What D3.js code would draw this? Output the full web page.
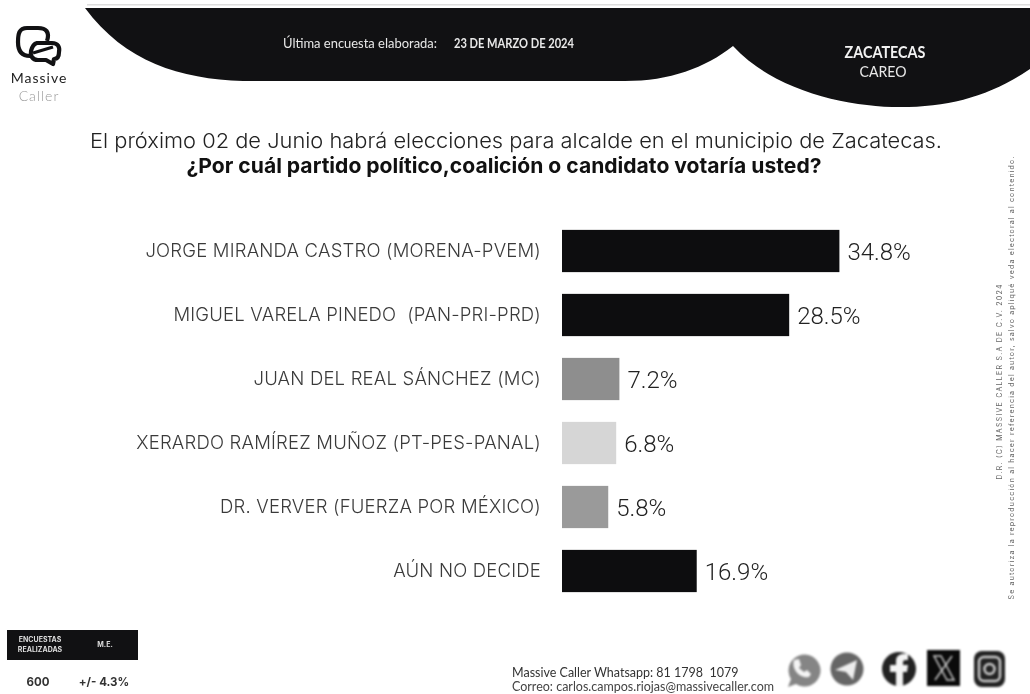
<!DOCTYPE html>
<html>
<head>
<meta charset="utf-8">
<script src="https://cdn.jsdelivr.net/npm/d3@7"></script>
<style>
html, body { margin: 0; padding: 0; background: #fff; }
svg { display: block; filter: blur(0.6px); }
text { font-family: Inter, Lato, sans-serif; }
</style>
</head>
<body>
<svg id="chart" width="1030" height="694"></svg>
<script>
var candidates = [
  'JORGE MIRANDA CASTRO (MORENA-PVEM)',
  'MIGUEL VARELA PINEDO  (PAN-PRI-PRD)',
  'JUAN DEL REAL SÁNCHEZ (MC)',
  'XERARDO RAMÍREZ MUÑOZ (PT-PES-PANAL)',
  'DR. VERVER (FUERZA POR MÉXICO)',
  'AÚN NO DECIDE'
];
var values = [34.8, 28.5, 7.2, 6.8, 5.8, 16.9];
var barColors = ['#0d0d0f', '#0d0d0f', '#8e8e8e', '#d6d6d6', '#9a9a9a', '#0d0d0f'];

var svg = d3.select('#chart');
var black = '#111113';

var x = d3.scaleLinear().domain([0, 35]).range([562, 841]);
var y = d3.scaleBand().domain(candidates).range([219, 603]).paddingInner(0.34).paddingOuter(0.17);

// header band
svg.append('path')
  .attr('d', 'M85,8 L1030,8 L1030,69 C990,96 950,107 900,107 C850,107 775,92 733,46 C705,68 670,81 625,81 L243,81 C180,79 125,62 85,8 Z')
  .style('fill', black);
svg.append('rect').attr('x', 87).attr('y', 4).attr('width', 943).attr('height', 1.5).style('fill', '#ddd');

// squeezed text, the original header font is condensed
function squeezed(t, px, py, w, size, weight, col, anchor) {
  svg.append('text').attr('x', px).attr('y', py).text(t)
    .attr('text-anchor', anchor || 'start')
    .attr('textLength', w).attr('lengthAdjust', 'spacingAndGlyphs')
    .style('font-family', 'Lato')
    .style('font-size', size + 'px').style('font-weight', weight).style('fill', col);
}
squeezed('Última encuesta elaborada:', 283, 48, 154, 14, 400, '#e8e8e8');
squeezed('23 DE MARZO DE 2024', 454, 48, 120, 12.5, 700, '#e8e8e8');
squeezed('ZACATECAS', 885, 58, 81, 17, 700, '#f2f2f2', 'middle');
squeezed('CAREO', 883, 77, 47, 16, 400, '#e8e8e8', 'middle');

// logo
var logo = svg.append('g').style('fill', 'none').style('stroke', black).style('stroke-width', 4.2).style('stroke-linejoin', 'round');
logo.append('path').attr('d', 'M47,41 C50,32 46,28 38,28 L27,28 C19,28 18,34 18,42 C18,51 22,56 30,56');
logo.append('path').attr('d', 'M37,43 L52,43 C58,43 60,47 59,52 C59,56 58,59 54,59 L53,64 L46,60 L38,60 C32,60 30,55 31,51 C32,47 33,44 37,43 Z');
logo.append('path').attr('d', 'M33,53 L53,47').style('stroke-width', 3);
svg.append('text').attr('x', 39).attr('y', 83).attr('text-anchor', 'middle').text('Massive')
  .style('font-family', 'Lato').style('font-size', '14px').style('letter-spacing', '1px').style('fill', '#222');
svg.append('text').attr('x', 39).attr('y', 101).attr('text-anchor', 'middle').text('Caller')
  .style('font-family', 'Lato').style('font-size', '14px').style('letter-spacing', '1px').style('font-weight', 300).style('fill', '#999');

// question
svg.append('text').attr('x', 516).attr('y', 148).attr('text-anchor', 'middle')
  .attr('textLength', 852).attr('lengthAdjust', 'spacingAndGlyphs')
  .text('El próximo 02 de Junio habrá elecciones para alcalde en el municipio de Zacatecas.')
  .style('font-size', '20.5px').style('font-weight', 300).style('fill', '#222');
svg.append('text').attr('x', 504).attr('y', 173).attr('text-anchor', 'middle')
  .attr('textLength', 635).attr('lengthAdjust', 'spacingAndGlyphs')
  .text('¿Por cuál partido político,coalición o candidato votaría usted?')
  .style('font-size', '20.5px').style('font-weight', 700).style('fill', '#111');

// bars
svg.selectAll('.bar').data(candidates).enter().append('rect')
  .classed('bar', true)
  .attr('x', x(0))
  .attr('y', function(d) { return y(d); })
  .attr('width', function(d, i) { return x(values[i]) - x(0); })
  .attr('height', y.bandwidth())
  .style('fill', function(d, i) { return barColors[i]; });

svg.selectAll('.name').data(candidates).enter().append('text')
  .classed('name', true)
  .attr('x', 541)
  .attr('y', function(d) { return y(d) + y.bandwidth() / 2; })
  .attr('dy', '0.35em')
  .attr('text-anchor', 'end')
  .attr('xml:space', 'preserve')
  .text(function(d) { return d; })
  .style('font-size', '18.5px')
  .style('letter-spacing', '0.2px')
  .style('font-weight', 300)
  .style('fill', '#3a3a3a');

svg.selectAll('.val').data(candidates).enter().append('text')
  .classed('val', true)
  .attr('x', function(d, i) { return x(values[i]) + 8; })
  .attr('y', function(d) { return y(d) + y.bandwidth() / 2 + 1; })
  .attr('dy', '0.35em')
  .text(function(d, i) { return values[i].toFixed(1) + '%'; })
  .style('font-family', 'Roboto')
  .style('font-size', '24px')
  .style('font-weight', 300)
  .style('fill', '#222');

// sample table
svg.append('rect').attr('x', 7).attr('y', 630).attr('width', 131).attr('height', 30).style('fill', black);
svg.append('text').attr('x', 40).attr('y', 642).attr('text-anchor', 'middle').text('ENCUESTAS')
  .style('font-size', '7px').style('font-weight', 700).style('fill', '#ddd');
svg.append('text').attr('x', 40).attr('y', 652).attr('text-anchor', 'middle').text('REALIZADAS')
  .style('font-size', '7px').style('font-weight', 700).style('fill', '#ddd');
svg.append('text').attr('x', 105).attr('y', 647).attr('text-anchor', 'middle').text('M.E.')
  .style('font-size', '7px').style('font-weight', 700).style('fill', '#ddd');
svg.append('text').attr('x', 38).attr('y', 686).attr('text-anchor', 'middle').text('600')
  .style('font-size', '11.5px').style('font-weight', 700).style('fill', '#333');
svg.append('text').attr('x', 104).attr('y', 686).attr('text-anchor', 'middle').text('+/- 4.3%')
  .style('font-size', '11.5px').style('font-weight', 700).style('fill', '#333');

// contact
svg.append('text').attr('x', 512).attr('y', 677).text('Massive Caller Whatsapp: 81 1798  1079')
  .attr('xml:space', 'preserve')
  .style('font-family', 'Lato').style('font-size', '12.5px').style('fill', '#333');
svg.append('text').attr('x', 512).attr('y', 691).text('Correo: carlos.campos.riojas@massivecaller.com')
  .style('font-family', 'Lato').style('font-size', '12.5px').style('fill', '#444');

// social icons
var ic = svg.append('g').style('filter', 'blur(0.8px)');
var wa = ic.append('g').attr('transform', 'translate(-3,-1)');
wa.append('path').attr('d', 'M791,688 L794,680 A16,16 0 1,1 799,685 Z').style('fill', '#858585');
wa.append('path').attr('d', 'M797,661 L802,660 L804,666 L802,669 L807,673 L810,671 L814,675 L812,678 C803,680 794,670 797,661 Z').style('fill', '#f4f4f4');
ic.append('circle').attr('cx', 847).attr('cy', 669).attr('r', 16.5).style('fill', '#666');
ic.append('path').attr('d', 'M835,670 L857,660 L853,680 L846,672 Z').style('fill', '#eee');
ic.append('circle').attr('cx', 899).attr('cy', 669).attr('r', 17).style('fill', '#222');
ic.append('path').attr('d', 'M896,686 L896,672 L890,672 L890,665 L896,665 L896,661 C896,655 901,653 908,654 L908,660 C904,660 903,660 903,663 L903,665 L908,665 L907,672 L903,672 L903,686 Z').style('fill', '#f4f4f4');
ic.append('rect').attr('x', 927).attr('y', 650).attr('width', 33).attr('height', 36).style('fill', '#0a0a0a');
ic.append('path').attr('d', 'M934,656 L941,656 L954,680 L947,680 Z').style('fill', 'none').style('stroke', '#ccc').style('stroke-width', 1.5);
ic.append('path').attr('d', 'M952,656 L935,680').style('stroke', '#ccc').style('stroke-width', 1.5);
ic.append('rect').attr('x', 974).attr('y', 651).attr('width', 31).attr('height', 36).attr('rx', 8).style('fill', '#222');
ic.append('rect').attr('x', 979).attr('y', 657).attr('width', 21).attr('height', 24).attr('rx', 5).style('fill', 'none').style('stroke', '#ccc').style('stroke-width', 2.5);
ic.append('circle').attr('cx', 989.5).attr('cy', 669).attr('r', 5).style('fill', 'none').style('stroke', '#ccc').style('stroke-width', 2.5);

// side notes
var side = svg.append('g').style('filter', 'blur(0.5px)');
side.append('text').attr('transform', 'translate(1002,382) rotate(-90)').attr('text-anchor', 'middle')
  .attr('textLength', 195).attr('lengthAdjust', 'spacing')
  .text('D.R.  (C) MASSIVE CALLER S.A DE C.V.  2024')
  .style('font-size', '7px').style('fill', '#666');
side.append('text').attr('transform', 'translate(1014,378) rotate(-90)').attr('text-anchor', 'middle')
  .attr('textLength', 443).attr('lengthAdjust', 'spacing')
  .text('Se autoriza la reproducción al hacer referencia del autor, salvo apliqué veda electoral al contenido.')
  .style('font-size', '7px').style('fill', '#666');
</script>
</body>
</html>
